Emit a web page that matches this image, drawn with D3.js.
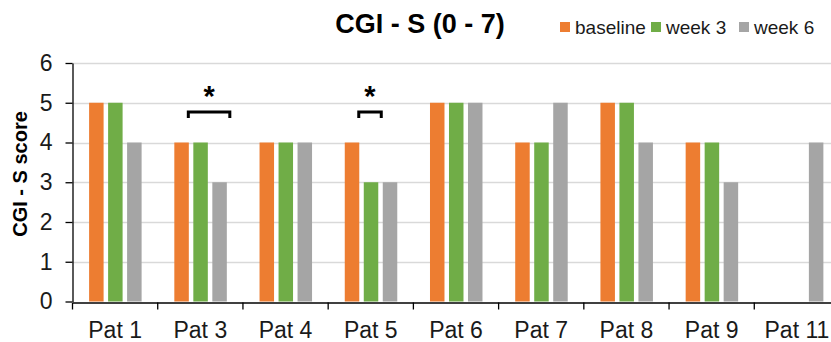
<!DOCTYPE html>
<html>
<head>
<meta charset="utf-8">
<script src="https://d3js.org/d3.v7.min.js"></script>
<style>
  body { margin: 0; background: #fff; }
  svg { display: block; font-family: "Liberation Sans", Arial, sans-serif; }
  .tick text { fill: #1a1a1a; }
</style>
</head>
<body>
<div id="chart"></div>
<script>
// data
const patients = ['Pat 1', 'Pat 3', 'Pat 4', 'Pat 5', 'Pat 6', 'Pat 7', 'Pat 8', 'Pat 9', 'Pat 11'];
const seriesNames = ['baseline', 'week 3', 'week 6'];
const baseline = [5, 4, 4, 4, 5, 4, 5, 4, null];
const week3 = [5, 4, 4, 3, 5, 4, 5, 4, null];
const week6 = [4, 3, 4, 3, 5, 5, 4, 3, 4];
const yTicks = [0, 1, 2, 3, 4, 5, 6];
// significance brackets: patient, compared series
const brackets = [
  { pat: 'Pat 3', to: 'week 6' },
  { pat: 'Pat 5', to: 'week 3' }
];

const colors = { 'baseline': '#ED7D31', 'week 3': '#70AD47', 'week 6': '#A5A5A5' };
const values = { 'baseline': baseline, 'week 3': week3, 'week 6': week6 };
const font = '"Liberation Sans", Arial, sans-serif';

const w = 831, h = 342;
const svg = d3.select('#chart').append('svg').attr('width', w).attr('height', h);

const x = d3.scaleBand().domain(patients).range([72.5, 839.5]).paddingInner(0).paddingOuter(0);
const xs = d3.scaleBand().domain(seriesNames).range([16.6, 69.1]).paddingInner(0.237).paddingOuter(0);
const y = d3.scaleLinear().domain([0, 6]).range([301.5, 63]);

// gridlines
svg.append('g').selectAll('line')
  .data(yTicks.filter(d => d > 0))
  .enter().append('line')
  .attr('x1', 72.5).attr('x2', w)
  .attr('y1', d => Math.round(y(d)) + 0.5)
  .attr('y2', d => Math.round(y(d)) + 0.5)
  .attr('stroke', '#d9d9d9').attr('stroke-width', 1.5);

// bars
const rows = [];
patients.forEach((p, i) => {
  seriesNames.forEach(s => {
    if (values[s][i] != null) rows.push({ pat: p, s: s, v: values[s][i] });
  });
});
svg.append('g').selectAll('rect')
  .data(rows)
  .enter().append('rect')
  .attr('x', d => x(d.pat) + xs(d.s))
  .attr('width', xs.bandwidth())
  .attr('y', d => y(d.v))
  .attr('height', d => y(0) - y(d.v))
  .attr('fill', d => colors[d.s]);

// axes
const xAxis = svg.append('g')
  .attr('transform', 'translate(0,' + Math.round(y(0)) + '.5)')
  .call(d3.axisBottom(x).tickSizeInner(0).tickSizeOuter(0));
xAxis.attr('font-family', font);
xAxis.select('.domain').attr('stroke', '#000').attr('stroke-width', 1.3);
xAxis.selectAll('.tick text').style('font-size', '23px').attr('dy', '0').attr('y', 35.5);
// boundary ticks between categories
xAxis.append('g').selectAll('line')
  .data(patients)
  .enter().append('line')
  .attr('x1', d => x(d)).attr('x2', d => x(d))
  .attr('y1', 0).attr('y2', 7)
  .attr('stroke', '#000').attr('stroke-width', 1.3);

const yAxis = svg.append('g')
  .attr('transform', 'translate(72.5,0)')
  .call(d3.axisLeft(y).tickValues(yTicks).tickFormat(d3.format('d')).tickSizeInner(7).tickSizeOuter(0).tickPadding(13));
yAxis.attr('font-family', font);
yAxis.select('.domain').attr('stroke', '#000').attr('stroke-width', 1.3);
yAxis.selectAll('.tick line').attr('stroke', '#000').attr('stroke-width', 1.3);
yAxis.selectAll('.tick text').style('font-size', '23px');

// y label
svg.append('text')
  .attr('transform', 'translate(27,174) rotate(-90)')
  .attr('text-anchor', 'middle')
  .style('font-size', '20px').style('font-weight', 'bold').attr('fill', '#000')
  .text('CGI - S score');

// title
svg.append('text')
  .attr('x', 420).attr('y', 33)
  .attr('text-anchor', 'middle')
  .style('font-size', '27px').style('font-weight', 'bold').attr('fill', '#000')
  .text('CGI - S (0 - 7)');

// legend
const legendX = [560, 651, 739];
const legend = svg.append('g').selectAll('g')
  .data(seriesNames)
  .enter().append('g')
  .attr('transform', (d, i) => 'translate(' + legendX[i] + ',0)');
legend.append('rect')
  .attr('x', 0).attr('y', 22).attr('width', 10).attr('height', 10)
  .attr('fill', d => colors[d]);
legend.append('text')
  .attr('x', 15).attr('y', 34)
  .style('font-size', '19px').attr('fill', '#1a1a1a')
  .text(d => d);

// significance brackets
const bx1 = d => x(d.pat) + xs('baseline') + xs.bandwidth() - 0.5;
const bx2 = d => x(d.pat) + xs(d.to) + xs.bandwidth() + 3;
const br = svg.append('g').selectAll('g')
  .data(brackets)
  .enter().append('g');
br.append('path')
  .attr('d', d => 'M' + bx1(d) + ',118V112H' + bx2(d) + 'V118')
  .attr('fill', 'none').attr('stroke', '#000').attr('stroke-width', 3);
br.append('text')
  .attr('x', d => (bx1(d) + bx2(d)) / 2)
  .attr('y', 106)
  .attr('text-anchor', 'middle')
  .style('font-size', '29px').style('font-weight', 'bold').attr('fill', '#000')
  .text('*');
</script>
</body>
</html>
